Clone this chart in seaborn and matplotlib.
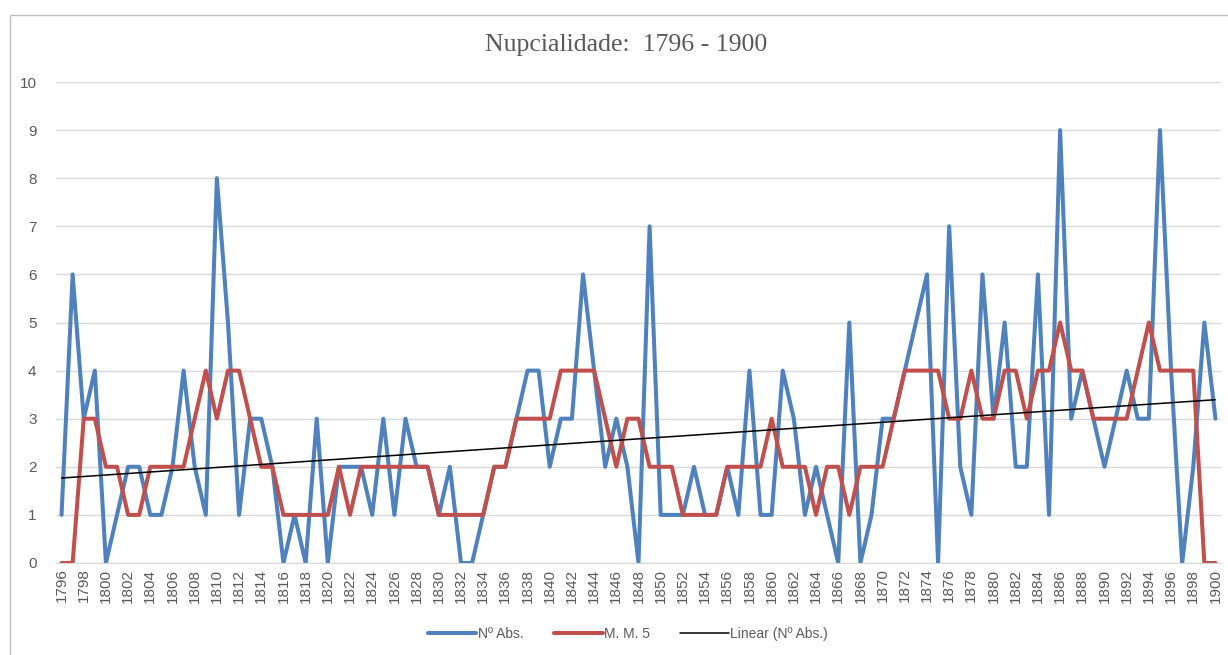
import matplotlib
matplotlib.use("Agg")
import matplotlib.pyplot as plt
import numpy as np
import pandas as pd
import seaborn as sns
from matplotlib.lines import Line2D
from matplotlib.patches import Rectangle

# --- data ---
years = list(range(1796, 1901))

n_abs = [1, 6, 3, 4, 0, 1, 2, 2, 1, 1,      # 1796-1805
         2, 4, 2, 1, 8, 5, 1, 3, 3, 2,      # 1806-1815
         0, 1, 0, 3, 0, 2, 2, 2, 1, 3,      # 1816-1825
         1, 3, 2, 2, 1, 2, 0, 0, 1, 2,      # 1826-1835
         2, 3, 4, 4, 2, 3, 3, 6, 4, 2,      # 1836-1845
         3, 2, 0, 7, 1, 1, 1, 2, 1, 1,      # 1846-1855
         2, 1, 4, 1, 1, 4, 3, 1, 2, 1,      # 1856-1865
         0, 5, 0, 1, 3, 3, 4, 5, 6, 0,      # 1866-1875
         7, 2, 1, 6, 3, 5, 2, 2, 6, 1,      # 1876-1885
         9, 3, 4, 3, 2, 3, 4, 3, 3, 9,      # 1886-1895
         4, 0, 2, 5, 3]                     # 1896-1900

mm5 = [0, 0, 3, 3, 2, 2, 1, 1, 2, 2,
       2, 2, 3, 4, 3, 4, 4, 3, 2, 2,
       1, 1, 1, 1, 1, 2, 1, 2, 2, 2,
       2, 2, 2, 2, 1, 1, 1, 1, 1, 2,
       2, 3, 3, 3, 3, 4, 4, 4, 4, 3,
       2, 3, 3, 2, 2, 2, 1, 1, 1, 1,
       2, 2, 2, 2, 3, 2, 2, 2, 1, 2,
       2, 1, 2, 2, 2, 3, 4, 4, 4, 4,
       3, 3, 4, 3, 3, 4, 4, 3, 4, 4,
       5, 4, 4, 3, 3, 3, 3, 4, 5, 4,
       4, 4, 4, 0, 0]

title = "Nupcialidade:  1796 - 1900"
labels = ["Nº Abs.", "M. M. 5", "Linear (Nº Abs.)"]
blue, red = "#4F81BD", "#C0504D"
grey_txt = "#595959"

df = pd.DataFrame({"ano": years, "abs": n_abs, "mm5": mm5})
coef = np.polyfit(df["ano"], df["abs"], 1)
df["linear"] = np.polyval(coef, df["ano"])

sns.set_style("white")
plt.rcParams["font.family"] = ["Liberation Sans", "DejaVu Sans"]

fig = plt.figure(figsize=(12.28, 6.55), dpi=100)
ax = fig.add_axes([56 / 1228, 1 - 563 / 655, (1221 - 56) / 1228, (563 - 82) / 655])

sns.lineplot(data=df, x="ano", y="abs", ax=ax, color=blue, linewidth=2.9, zorder=3)
sns.lineplot(data=df, x="ano", y="mm5", ax=ax, color=red, linewidth=2.9, zorder=4)
sns.lineplot(data=df, x="ano", y="linear", ax=ax, color="black", linewidth=1.1, zorder=5)

ax.set_xlim(1795.5, 1900.5)
ax.set_ylim(0, 10)
ax.set_yticks(range(0, 11))
ax.set_xticks(years[::2])
ax.set_xticklabels([str(y) for y in years[::2]], rotation=90)
ax.tick_params(axis="both", length=0, labelsize=11, colors=grey_txt)
ax.tick_params(axis="y", pad=14)
ax.tick_params(axis="x", pad=4)
ax.set_xlabel("")
ax.set_ylabel("")
ax.grid(axis="y", color="#D9D9D9", linewidth=1.0)
for s in ["top", "right", "left"]:
    ax.spines[s].set_visible(False)
ax.spines["bottom"].set_color("#D9D9D9")

fig.text(626 / 1228, 1 - 45 / 655, title, ha="center", va="center",
         fontsize=18.5, color=grey_txt, family="Liberation Serif")

handles = [Line2D([], [], color=blue, linewidth=2.9),
           Line2D([], [], color=red, linewidth=2.9),
           Line2D([], [], color="black", linewidth=1.1)]
fig.legend(handles, labels, loc="center", bbox_to_anchor=(628 / 1228, 1 - 634 / 655),
           ncol=3, frameon=False, fontsize=10, labelcolor=grey_txt,
           handlelength=3.5, handletextpad=0.1, columnspacing=2.2)

fig.patches.append(Rectangle((9.5 / 1228, -0.01), 1.02, 1 - 15 / 655 + 0.01,
                             transform=fig.transFigure, fill=False,
                             edgecolor="#BFBFBF", linewidth=1.0))

fig.savefig("out.png", dpi=100)
